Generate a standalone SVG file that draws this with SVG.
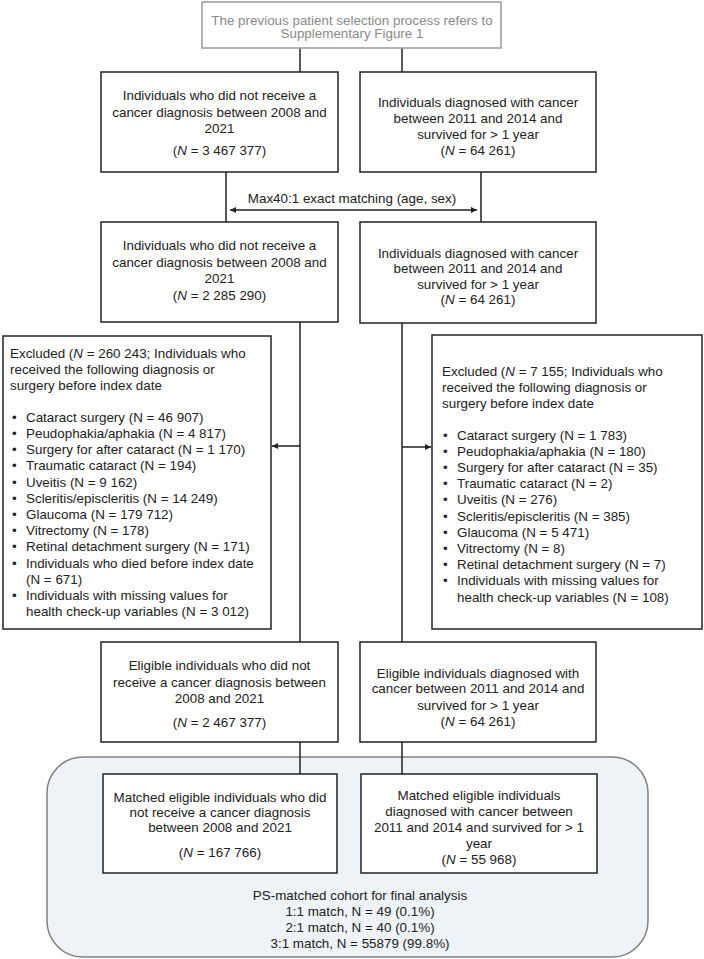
<svg xmlns="http://www.w3.org/2000/svg" width="704" height="959" viewBox="0 0 704 959">
<defs>
<style>
text{font-family:"Liberation Sans",Arial,sans-serif;font-size:13.4px;fill:#222}
.c{text-anchor:middle}
.g{fill:#8a8a8a}
.box{fill:#fff;stroke:#222;stroke-width:1.5}
.line{fill:none;stroke:#222;stroke-width:1.5}
.i{font-style:italic}
</style>
<marker id="ah" viewBox="0 0 10 10" refX="10" refY="5" markerWidth="6" markerHeight="6" orient="auto-start-reverse" markerUnits="userSpaceOnUse">
<path d="M0,0 L10,5 L0,10 z" fill="#222"/>
</marker>
</defs>
<rect width="704" height="959" fill="#fff"/>

<g id="container">
<rect x="47" y="757" width="601" height="200" rx="36" ry="36" fill="#eef3f8" stroke="#808080" stroke-width="1.5"/>
<text class="c" x="360" y="900">PS-matched cohort for final analysis</text>
<text class="c" x="360" y="915.5">1:1 match, N = 49 (0.1%)</text>
<text class="c" x="360" y="931.5">2:1 match, N = 40 (0.1%)</text>
<text class="c" x="360" y="948">3:1 match, N = 55879 (99.8%)</text>
</g>

<g id="connectors">
<path class="line" d="M300,48 V72 M402,48 V72"/>
<path class="line" d="M226,172 V222 M481,172 V222"/>
<path class="line" d="M230,210 H477" marker-start="url(#ah)" marker-end="url(#ah)"/>
<path class="line" d="M300,322 V642 M402,323 V642"/>
<path class="line" d="M300,446 H272" marker-end="url(#ah)"/>
<path class="line" d="M402,447 H431" marker-end="url(#ah)"/>
<path class="line" d="M300,742 V774 M402,742 V774"/>
<text class="c" x="352" y="202.5">Max40:1 exact matching (age, sex)</text>
</g>

<g id="top">
<rect x="202" y="2" width="299" height="46" fill="#fff" stroke="#9a9a9a" stroke-width="1.5"/>
<text class="c g" x="352" y="24.5">The previous patient selection process refers to</text>
<text class="c g" x="352" y="38">Supplementary  Figure 1</text>
</g>

<g id="a1">
<rect class="box" x="101" y="72" width="237" height="100"/>
<text class="c" x="219.5" y="100">Individuals  who did not receive a</text>
<text class="c" x="219.5" y="117">cancer diagnosis between 2008 and</text>
<text class="c" x="219.5" y="133">2021</text>
<text class="c" x="219.5" y="155">(<tspan class="i">N</tspan> = 3 467 377)</text>
</g>

<g id="b1">
<rect class="box" x="360" y="72" width="236" height="100"/>
<text class="c" x="478" y="107">Individuals  diagnosed with cancer</text>
<text class="c" x="478" y="123">between 2011 and 2014 and</text>
<text class="c" x="478" y="139">survived for &gt; 1 year</text>
<text class="c" x="478" y="155">(<tspan class="i">N</tspan> = 64 261)</text>
</g>

<g id="a2">
<rect class="box" x="101" y="222" width="237" height="100"/>
<text class="c" x="219.5" y="250">Individuals  who did not receive a</text>
<text class="c" x="219.5" y="267">cancer diagnosis between 2008 and</text>
<text class="c" x="219.5" y="283">2021</text>
<text class="c" x="219.5" y="300">(<tspan class="i">N</tspan> = 2 285 290)</text>
</g>

<g id="b2">
<rect class="box" x="360" y="222" width="236" height="101"/>
<text class="c" x="478" y="257.5">Individuals  diagnosed with cancer</text>
<text class="c" x="478" y="273">between 2011 and 2014 and</text>
<text class="c" x="478" y="289">survived for &gt; 1 year</text>
<text class="c" x="478" y="304">(<tspan class="i">N</tspan> = 64 261)</text>
</g>

<g id="excl-left">
<rect class="box" x="3" y="336" width="268" height="293"/>
<text x="10" y="357.5">Excluded (<tspan class="i">N</tspan> = 260 243; Individuals  who</text>
<text x="10" y="374">received the following diagnosis or</text>
<text x="10" y="390">surgery before index date</text>
<g>
<text x="12" y="421.8">•</text><text x="26" y="421.8">Cataract surgery (N = 46 907)</text>
<text x="12" y="438">•</text><text x="26" y="438">Peudophakia/aphakia (N = 4 817)</text>
<text x="12" y="454.2">•</text><text x="26" y="454.2">Surgery for after cataract (N = 1 170)</text>
<text x="12" y="470.4">•</text><text x="26" y="470.4">Traumatic cataract (N = 194)</text>
<text x="12" y="486.6">•</text><text x="26" y="486.6">Uveitis (N = 9 162)</text>
<text x="12" y="502.8">•</text><text x="26" y="502.8">Scleritis/episcleritis (N = 14 249)</text>
<text x="12" y="519">•</text><text x="26" y="519">Glaucoma (N = 179 712)</text>
<text x="12" y="535.2">•</text><text x="26" y="535.2">Vitrectomy (N = 178)</text>
<text x="12" y="551.4">•</text><text x="26" y="551.4">Retinal detachment surgery (N = 171)</text>
<text x="12" y="567.6">•</text><text x="26" y="567.6">Individuals  who died before index date</text>
<text x="26" y="583.8">(N = 671)</text>
<text x="12" y="600">•</text><text x="26" y="600">Individuals  with missing values for</text>
<text x="26" y="616.2">health check-up variables (N = 3 012)</text>
</g>
</g>

<g id="excl-right">
<rect class="box" x="432" y="335" width="270" height="294"/>
<text x="442" y="375.5">Excluded (<tspan class="i">N</tspan> = 7 155; Individuals  who</text>
<text x="442" y="391.5">received the following diagnosis or</text>
<text x="442" y="407.5">surgery before index date</text>
<g>
<text x="443" y="439.5">•</text><text x="457" y="439.5">Cataract surgery (N = 1 783)</text>
<text x="443" y="455.7">•</text><text x="457" y="455.7">Peudophakia/aphakia (N = 180)</text>
<text x="443" y="471.9">•</text><text x="457" y="471.9">Surgery for after cataract (N = 35)</text>
<text x="443" y="488.1">•</text><text x="457" y="488.1">Traumatic cataract (N = 2)</text>
<text x="443" y="504.3">•</text><text x="457" y="504.3">Uveitis (N = 276)</text>
<text x="443" y="520.5">•</text><text x="457" y="520.5">Scleritis/episcleritis (N = 385)</text>
<text x="443" y="536.7">•</text><text x="457" y="536.7">Glaucoma (N = 5 471)</text>
<text x="443" y="552.9">•</text><text x="457" y="552.9">Vitrectomy (N = 8)</text>
<text x="443" y="569.1">•</text><text x="457" y="569.1">Retinal detachment surgery (N = 7)</text>
<text x="443" y="585.3">•</text><text x="457" y="585.3">Individuals  with missing values for</text>
<text x="457" y="601.5">health check-up variables (N = 108)</text>
</g>
</g>

<g id="a3">
<rect class="box" x="101" y="642" width="237" height="100"/>
<text class="c" x="219.5" y="670">Eligible individuals who did not</text>
<text class="c" x="219.5" y="687">receive a cancer diagnosis between</text>
<text class="c" x="219.5" y="703">2008 and 2021</text>
<text class="c" x="219.5" y="727">(<tspan class="i">N</tspan> = 2 467 377)</text>
</g>

<g id="b3">
<rect class="box" x="360" y="642" width="236" height="100"/>
<text class="c" x="478" y="677.5">Eligible individuals diagnosed with</text>
<text class="c" x="478" y="693">cancer between 2011 and 2014 and</text>
<text class="c" x="478" y="710">survived for &gt; 1 year</text>
<text class="c" x="478" y="725.5">(<tspan class="i">N</tspan> = 64 261)</text>
</g>

<g id="a4">
<rect class="box" x="103" y="774" width="234" height="99"/>
<text class="c" x="220" y="801.5">Matched eligible individuals who did</text>
<text class="c" x="220" y="816.5">not receive a cancer diagnosis</text>
<text class="c" x="220" y="832">between 2008 and 2021</text>
<text class="c" x="220" y="856.5">(<tspan class="i">N</tspan> = 167 766)</text>
</g>

<g id="b4">
<rect class="box" x="361" y="774" width="236" height="99"/>
<text class="c" x="479" y="800">Matched eligible individuals</text>
<text class="c" x="479" y="815.5">diagnosed with cancer between</text>
<text class="c" x="479" y="832">2011 and 2014 and survived for &gt; 1</text>
<text class="c" x="479" y="848">year</text>
<text class="c" x="479" y="864">(<tspan class="i">N</tspan> = 55 968)</text>
</g>
</svg>
